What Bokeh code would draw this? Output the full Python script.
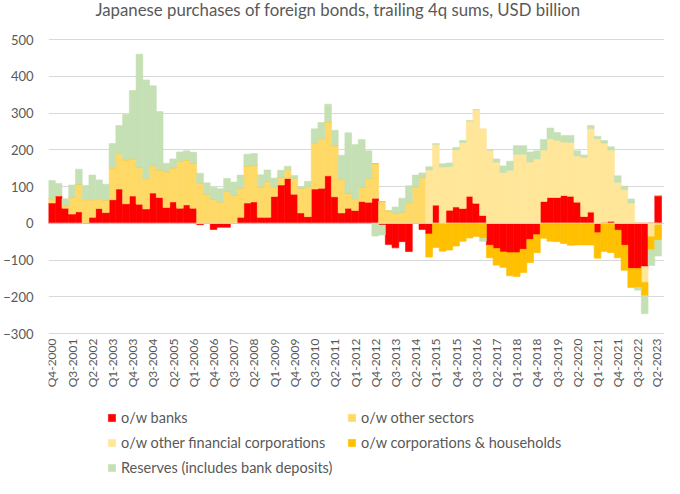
import math
import numpy as np
from bokeh.plotting import figure
from bokeh.models import ColumnDataSource, Range1d, FixedTicker, Span, Legend, Label
from bokeh.core.properties import value
from bokeh.embed import file_html
from bokeh.resources import INLINE

# ---- data (USD billion, trailing 4q sums), quarters Q4-2000 .. Q2-2023 ----
banks = [55, 74, 41, 25, 31, 1, 16, 40, 29, 64, 93, 53, 74, 52, 39, 82,
         70, 43, 58, 41, 50, 41, -4, 0, -17, -11, -11, 0, 16, 55, 58, 16,
         16, 73, 104, 122, 79, 28, 18, 93, 95, 129, 72, 28, 41, 35, 59, 57,
         68, -5, -58, -67, -50, -77, 0, -17, -29, 50, 0, 36, 45, 41, 74, 55,
         22, -60, -69, -78, -80, -80, -71, -44, -31, 60, 71, 71, 76, 74, 58, 19,
         31, -26, 3, 6, -19, -60, -123, -123, -118, 0, 75]
# Q4-2000 .. Q3-2014
other_sectors = [12, 2, 7, 46, 75, 63, 48, 27, 34, 87, 97, 119, 102, 100, 82, 75,
                 75, 97, 93, 128, 122, 123, 108, 79, 66, 57, 88, 76, 79, 101, 100, 83,
                 99, 26, 21, 24, 43, 67, 82, 124, 135, 147, 139, 93, 41, 32, 39, 65,
                 94, 59, 33, 28, 30, 56, 99, 125]
# Q4-2014 .. Q2-2023
other_fin_corps = [145, 164, 153, 118, 155, 179, 204, 254, 235, 199, 166, 138, 144, 188, 188, 167,
                   175, 139, 159, 155, 145, 146, 125, 160, 226, 230, 215, 193, 111, 91, 55, 0,
                   -43, -37, -5]
corps_households = [-63, -66, -76, -73, -62, -49, -40, -36, -41, -34, -45, -42, -63, -65, -63, -63,
                    -49, -41, -49, -50, -55, -60, -59, -59, -59, -69, -77, -80, -75, -68, -52, -52,
                    -36, -35, -41]
reserves = [49, 32, 19, 33, 41, 39, 67, 51, 43, 66, 76, 124, 185, 308, 269, 217,
            159, 23, 24, 25, 25, 29, 28, 31, 32, 37, 34, 36, 36, 32, 32, 33,
            30, 24, 19, 9, 8, 4, 14, 40, 44, 48, 42, 64, 164, 147, 130, 75,
            -35, -27, 0, 16, 38, 46, 32, 12, 9, 3, 9, 10, 6, 5, 1, 0,
            -8, 0, 9, 18, 25, 23, 23, 27, 22, 29, 29, 21, 18, 19, 14, 7,
            9, 7, 7, 9, 18, 10, 11, -7, -49, -43, -43]

tick_labels = ["Q4-2000", "Q3-2001", "Q2-2002", "Q1-2003", "Q4-2003", "Q3-2004", "Q2-2005",
               "Q1-2006", "Q4-2006", "Q3-2007", "Q2-2008", "Q1-2009", "Q4-2009", "Q3-2010",
               "Q2-2011", "Q1-2012", "Q4-2012", "Q3-2013", "Q2-2014", "Q1-2015", "Q4-2015",
               "Q3-2016", "Q2-2017", "Q1-2018", "Q4-2018", "Q3-2019", "Q2-2020", "Q1-2021",
               "Q4-2021", "Q3-2022", "Q2-2023"]

title_text = "Japanese purchases of foreign bonds, trailing 4q sums, USD billion"
series_names = ["o/w banks", "o/w other sectors", "o/w other financial corporations",
                "o/w corporations & households", "Reserves (includes bank deposits)"]
colors = ["#FF0000", "#FFD966", "#FFE699", "#FFC000", "#C5E0B4"]

n = len(banks)
x = np.arange(n)
pad_other = np.array(other_sectors + [0] * (n - len(other_sectors)), dtype=float)
pad_ofc = np.array([0] * (n - len(other_fin_corps)) + other_fin_corps, dtype=float)
pad_ch = np.array([0] * (n - len(corps_households)) + corps_households, dtype=float)
all_series = [np.array(banks, float), pad_other, pad_ofc, pad_ch, np.array(reserves, float)]

TEXT = "#595959"
FONT = "Lato"

# layout: the value axis -300..500 occupies canvas rows 39..333 and columns 43..661;
# the frame spans the full canvas height so title, category labels and legend sit in it
W, H = 664, 478
LEFT = 43
TOP, AX_BOTTOM = 39, 333
Y_MIN, Y_MAX = -300, 500
upp = (Y_MAX - Y_MIN) / (AX_BOTTOM - TOP)
y_end = Y_MAX + TOP * upp
y_start = Y_MIN - (H - AX_BOTTOM) * upp
px_per_bar = 618 / n
x_end = -0.5 + (W - LEFT) / px_per_bar

p = figure(width=W, height=H, output_backend="svg", toolbar_location=None,
           x_range=Range1d(-0.5, x_end), y_range=Range1d(y_start, y_end),
           x_axis_location=None,
           min_border_left=LEFT, min_border_right=0, min_border_top=0, min_border_bottom=0)

p.outline_line_color = None
p.xgrid.grid_line_color = None
p.ygrid.grid_line_color = "#D9D9D9"
p.ygrid.grid_line_width = 1

items = []
pos = np.zeros(n)
neg = np.zeros(n)
for vals, name, col in zip(all_series, series_names, colors):
    bottom = np.where(vals >= 0, pos, neg + vals)
    top = np.where(vals >= 0, pos + vals, neg)
    pos = pos + np.where(vals >= 0, vals, 0)
    neg = neg + np.where(vals < 0, vals, 0)
    src = ColumnDataSource(dict(x=x, bottom=bottom, top=top))
    r = p.vbar(x="x", bottom="bottom", top="top", width=1.0, source=src,
               fill_color=col, line_color=col, line_width=0.6)
    items.append((name, [r]))

p.add_layout(Span(location=0, dimension="width", line_color="#D9D9D9", line_width=1.2))

# value axis
p.yaxis.ticker = FixedTicker(ticks=list(range(Y_MIN, Y_MAX + 1, 100)))
p.yaxis.axis_line_color = None
p.yaxis.major_tick_line_color = None
p.yaxis.minor_tick_line_color = None
p.yaxis.major_tick_out = 0
p.yaxis.major_tick_in = 0
p.yaxis.major_label_standoff = 15
p.yaxis.major_label_text_font = FONT
p.yaxis.major_label_text_font_size = "13px"
p.yaxis.major_label_text_color = TEXT

# category labels (every third quarter), placed under the -300 line
tick_pos = list(range(0, n, 3))
label_style = dict(angle=math.pi / 2, text_align="right", text_baseline="middle", y_offset=5,
                   text_font=value(FONT), text_font_size="12px", text_color=TEXT)
lab_src = ColumnDataSource(dict(x=tick_pos[:-1], y=[Y_MIN] * (len(tick_pos) - 1),
                                text=tick_labels[:-1]))
p.text(x="x", y="y", text="text", source=lab_src, x_offset=0, **label_style)
last_src = ColumnDataSource(dict(x=tick_pos[-1:], y=[Y_MIN], text=tick_labels[-1:]))
p.text(x="x", y="y", text="text", source=last_src, x_offset=-1.5, **label_style)

# title
p.add_layout(Label(x=47, y=H - 9, x_units="screen", y_units="screen", text=title_text,
                   text_align="left", text_baseline="middle", text_font=FONT,
                   text_font_size="16.8px", text_color=TEXT))

lg = Legend(items=items, orientation="horizontal", ncols=2, location=(59, 2))
lg.border_line_color = None
lg.background_fill_alpha = 0
lg.padding = 0
lg.margin = 0
lg.spacing = 8
lg.glyph_width = 9
lg.glyph_height = 9
lg.label_height = 16
lg.label_width = 218
lg.label_standoff = 5
lg.label_text_font = FONT
lg.label_text_font_size = "14.5px"
lg.label_text_color = TEXT
p.add_layout(lg)

open("out.html", "w").write(file_html(p, INLINE))
